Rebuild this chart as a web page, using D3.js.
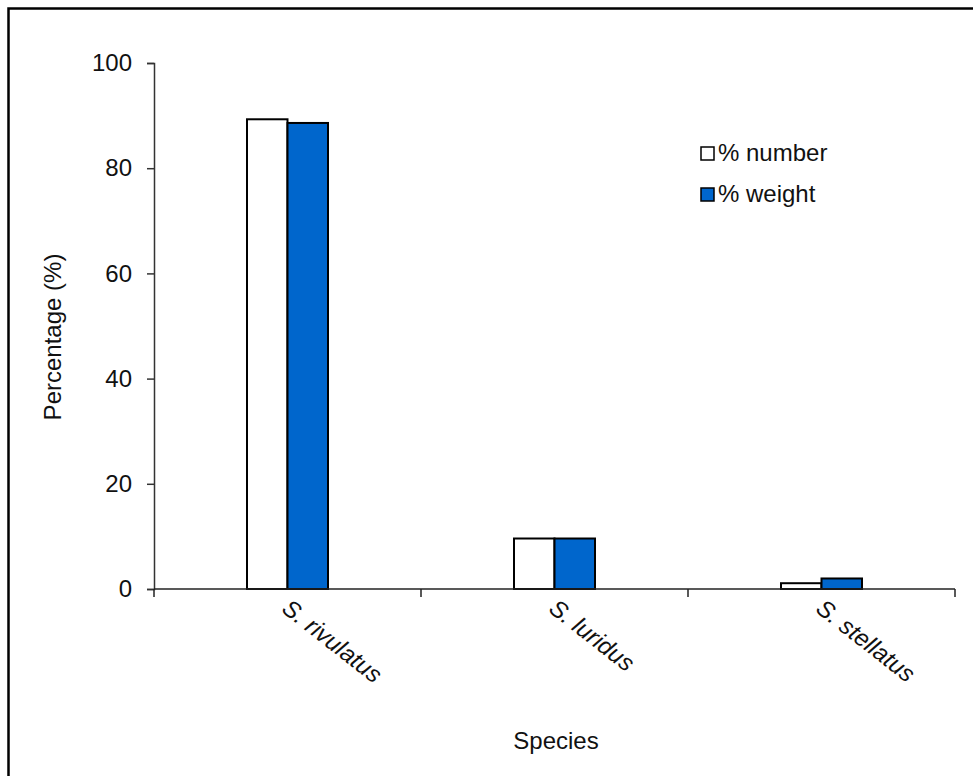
<!DOCTYPE html>
<html><head><meta charset="utf-8">
<script src="https://cdn.jsdelivr.net/npm/d3@7"></script>
<style>body{margin:0;background:#fff;}svg{display:block;font-family:"Liberation Sans",Arial,sans-serif;}</style>
</head><body>
<svg id="c" width="973" height="776"></svg>
<script>
const categories = ["S. rivulatus", "S. luridus", "S. stellatus"];
const seriesNames = ["% number", "% weight"];
const numberVals = [89.3, 9.6, 1.1];
const weightVals = [88.6, 9.6, 2.0];
const yTicks = [0, 20, 40, 60, 80, 100];
const colors = ["#ffffff", "#0066cc"];

const svg = d3.select("#c");
// frame
svg.append("path").attr("d","M8.5,776 V8.5 H973").attr("fill","none").attr("stroke","#000").attr("stroke-width",2.5);

const m = {l:154, r:955, t:63, b:589};
const x = d3.scaleBand().domain(categories).range([m.l, m.r]);
const y = d3.scaleLinear().domain([0,100]).range([m.b, m.t]);
const barW = 40.5;

const data = categories.map((c,i)=>({c, v:[numberVals[i], weightVals[i]]}));
const g = svg.append("g");
data.forEach(d=>{
  d.v.forEach((v,j)=>{
    const cx = x(d.c) + x.bandwidth()/2;
    g.append("rect")
      .attr("x", cx - barW + j*barW)
      .attr("y", y(v))
      .attr("width", barW)
      .attr("height", y(0)-y(v))
      .attr("fill", colors[j])
      .attr("stroke","#000").attr("stroke-width",2);
  });
});

// y axis
const ya = svg.append("g").attr("transform",`translate(${m.l},0)`)
  .call(d3.axisLeft(y).tickValues(yTicks).tickSize(7).tickPadding(15));
ya.select(".domain").attr("stroke","#333").attr("stroke-width",1.5);
ya.selectAll(".tick line").attr("stroke","#333").attr("stroke-width",1.5);
ya.selectAll("text").attr("font-size",24).attr("fill","#111").attr("font-family","Liberation Sans, Arial, sans-serif");

// x axis
const xa = svg.append("g").attr("transform",`translate(0,${m.b})`);
xa.append("line").attr("x1",m.l).attr("x2",m.r).attr("stroke","#222").attr("stroke-width",1.5);
const bounds = [m.l, ...categories.map(c=>x(c)+x.bandwidth())];
bounds.forEach(b=>xa.append("line").attr("x1",b).attr("x2",b).attr("y1",0).attr("y2",8).attr("stroke","#222").attr("stroke-width",1.5));
categories.forEach(c=>{
  const cx = x(c)+x.bandwidth()/2;
  xa.append("text").attr("transform",`translate(${cx-7},${22}) rotate(38)`)
    .attr("font-size",24).attr("font-style","italic").attr("fill","#111").text(c);
});

// titles
svg.append("text").attr("transform","translate(61,337) rotate(-90)").attr("text-anchor","middle")
  .attr("font-size",24).attr("fill","#111").text("Percentage (%)");
svg.append("text").attr("x",556).attr("y",749).attr("text-anchor","middle")
  .attr("font-size",24).attr("fill","#111").text("Species");

// legend
seriesNames.forEach((s,i)=>{
  const ly = 147 + i*41;
  svg.append("rect").attr("x",701).attr("y",ly).attr("width",13).attr("height",13)
    .attr("fill",colors[i]).attr("stroke","#000").attr("stroke-width",1.5);
  svg.append("text").attr("x",718).attr("y",ly+14).attr("font-size",24).attr("fill","#111").text(s);
});
</script>
</body></html>
